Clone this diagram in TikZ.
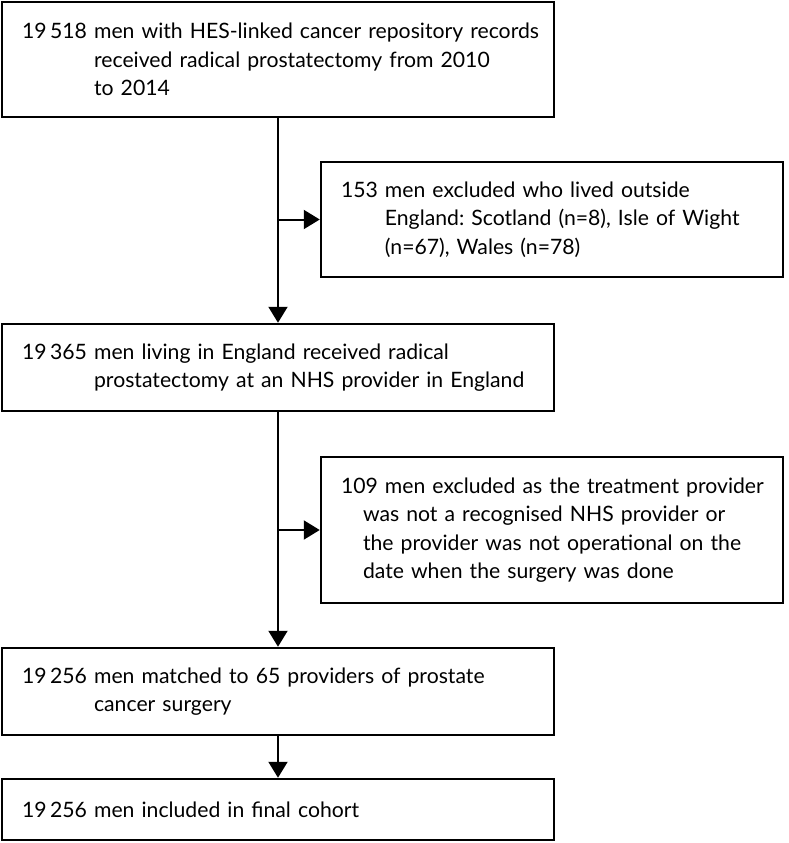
\documentclass[tikz,border=0pt]{standalone}
\usepackage{fontspec}
\setmainfont{Lato}
\usepackage{tikz}
\usetikzlibrary{arrows.meta}
\frenchspacing
\newlength{\hangw}
% first word sets the hanging indent of the following lines
\newcommand{\hangtext}[2]{\leftskip=12pt\settowidth{\hangw}{#1\ }\hangindent=\hangw\hangafter=1\noindent#1 #2\par}
\newcommand{\hangby}[3]{\leftskip=12pt\hangindent=#1\hangafter=1\noindent#2 #3\par}

\begin{document}
\begin{tikzpicture}[x=1pt,y=-1pt,>={Triangle[length=16pt,width=19pt]},
  box/.style={draw,line width=2.5pt,inner xsep=8pt,inner ysep=0pt,align=left,
    font=\fontsize{21.2}{28.5}\selectfont},
  main box/.style={box,text width=536pt,minimum width=552pt},
  side box/.style={box,text width=446pt,minimum width=462pt},
  link/.style={->,line width=2pt}]

\useasboundingbox (0,0) rectangle (788,843);

\node[main box,minimum height=115pt] (repo) at (278,59.5)
  {\hangtext{19\,518}{men with HES-linked cancer repository records\newline
   received radical prostatectomy from 2010\newline to 2014}};
\node[side box,minimum height=115pt] (outside) at (552,219.5)
  {\hangtext{153}{men excluded who lived outside\newline
   England: Scotland (n=8), Isle of Wight\newline (n=67), Wales (n=78)}};
\node[main box,minimum height=87pt] (england) at (278,367.5)
  {\hangtext{19\,365}{men living in England received radical\newline
   prostatectomy at an NHS provider in England}};
\node[side box,minimum height=146pt] (provider) at (552,530)
  {\hangby{22pt}{109}{men excluded as the treatment provider\newline
   was not a recognised NHS provider or\newline
   the provider was not operational on the\newline
   date when the surgery was done}};
\node[main box,minimum height=87pt] (matched) at (278,691.5)
  {\hangtext{19\,256}{men matched to 65 providers of prostate\newline cancer surgery}};
\node[main box,minimum height=61pt] (cohort) at (278,809.5)
  {\hangtext{19\,256}{men included in final cohort}};

\draw[link] (repo) -- (england);
\draw[link] (repo.south |- outside.west) -- (outside.west);
\draw[link] (england) -- (matched);
\draw[link] (england.south |- provider.west) -- (provider.west);
\draw[link] (matched) -- (cohort);
\end{tikzpicture}
\end{document}
